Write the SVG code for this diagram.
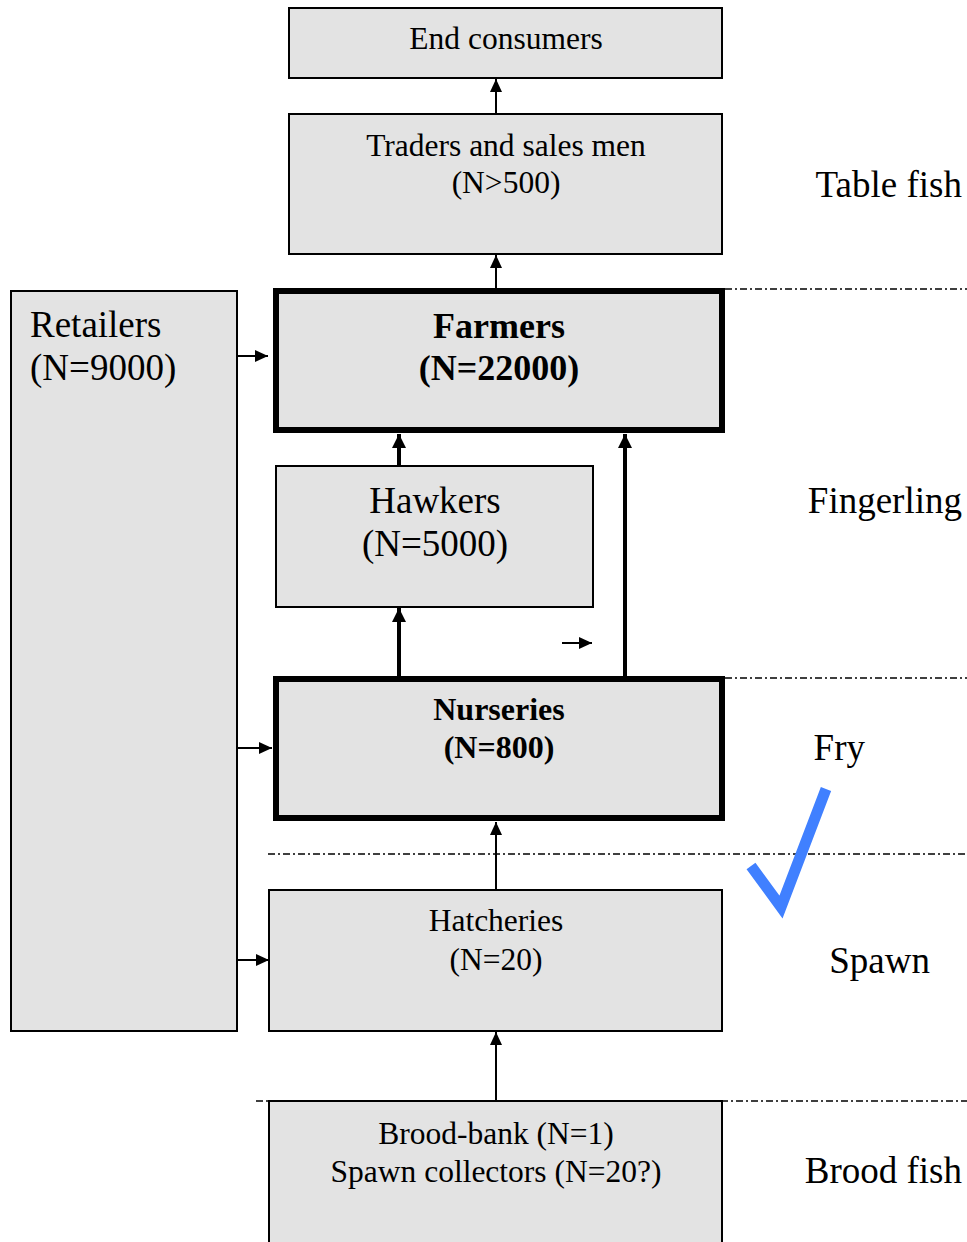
<svg xmlns="http://www.w3.org/2000/svg" width="967" height="1242" viewBox="0 0 967 1242">
<style>
.box{fill:#e3e3e3;stroke:#000;stroke-width:2}
.bold{fill:#e3e3e3;stroke:#000;stroke-width:6}
.t{font-family:"Liberation Serif","Times New Roman",serif;font-size:31.5px;fill:#000;text-anchor:middle}
.tl{font-family:"Liberation Serif","Times New Roman",serif;font-size:37px;fill:#000}
.tb{font-family:"Liberation Serif","Times New Roman",serif;font-weight:bold;fill:#000;text-anchor:middle}
.side{font-family:"Liberation Serif","Times New Roman",serif;font-size:37px;fill:#000;text-anchor:end}
.c{stroke:#000;stroke-width:2;fill:none;marker-end:url(#ah)}
.ck{stroke:#000;stroke-width:4;fill:none;marker-end:url(#ahb)}
.dd{stroke:#000;stroke-width:1.6;stroke-dasharray:7 3 2 3;fill:none}
</style>
<defs>
<marker id="ah" markerUnits="userSpaceOnUse" markerWidth="13" markerHeight="12" refX="13" refY="6" orient="auto"><path d="M0,0 L13,6 L0,12 z" fill="#000"/></marker>
<marker id="ahb" markerUnits="userSpaceOnUse" markerWidth="14" markerHeight="14" refX="14" refY="7" orient="auto"><path d="M0,0 L14,7 L0,14 z" fill="#000"/></marker>
</defs>
<g id="dividers">
<path class="dd" d="M725,289 H967"/>
<path class="dd" d="M725,678 H967"/>
<path class="dd" d="M268,854 H967"/>
<path class="dd" d="M256,1101 H967"/>
</g>
<g id="retailers"><rect class="box" x="11" y="291" width="226" height="740"/><text class="tl" x="30" y="337">Retailers</text><text class="tl" x="30" y="380">(N=9000)</text></g>
<g id="end-consumers"><rect class="box" x="289" y="8" width="433" height="70"/><text class="t" x="506" y="49">End consumers</text></g>
<g id="traders"><rect class="box" x="289" y="114" width="433" height="140"/><text class="t" x="506" y="156">Traders and sales men</text><text class="t" x="506" y="193">(N&gt;500)</text></g>
<g id="farmers"><rect class="bold" x="276" y="291" width="446" height="139"/><text class="tb" x="499" y="338" font-size="36">Farmers</text><text class="tb" x="499" y="380" font-size="36">(N=22000)</text></g>
<g id="hawkers"><rect class="box" x="276" y="466" width="317" height="141"/><text class="tl" x="435" y="513" text-anchor="middle">Hawkers</text><text class="tl" x="435" y="556" text-anchor="middle">(N=5000)</text></g>
<g id="nurseries"><rect class="bold" x="276" y="679" width="446" height="139"/><text class="tb" x="499" y="720" font-size="32">Nurseries</text><text class="tb" x="499" y="758" font-size="32">(N=800)</text></g>
<g id="hatcheries"><rect class="box" x="269" y="890" width="453" height="141"/><text class="t" x="496" y="931">Hatcheries</text><text class="t" x="496" y="970">(N=20)</text></g>
<g id="brood"><rect class="box" x="269" y="1101" width="453" height="150"/><text class="t" x="496" y="1144">Brood-bank (N=1)</text><text class="t" x="496" y="1182">Spawn collectors (N=20?)</text></g>
<g id="stage-labels">
<text class="side" x="962" y="197">Table fish</text>
<text class="side" x="962" y="513">Fingerling</text>
<text class="side" x="865" y="760">Fry</text>
<text class="side" x="930" y="973">Spawn</text>
<text class="side" x="962" y="1183">Brood fish</text>
</g>
<g id="connectors">
<path class="c" d="M496,114 V79"/>
<path class="c" d="M496,288 V255"/>
<path class="ck" d="M399,466 V434"/>
<path class="ck" d="M625,676 V434"/>
<path class="ck" d="M399,676 V608"/>
<path class="c" d="M562,643 H592"/>
<path class="c" d="M496,890 V822"/>
<path class="c" d="M496,1101 V1032"/>
<path class="c" d="M237,356 H268"/>
<path class="c" d="M237,748 H272"/>
<path class="c" d="M237,960 H269"/>
</g>
<path id="checkmark" d="M751,866 L781,907 L826,789" fill="none" stroke="#4080ff" stroke-width="11"/>
</svg>
